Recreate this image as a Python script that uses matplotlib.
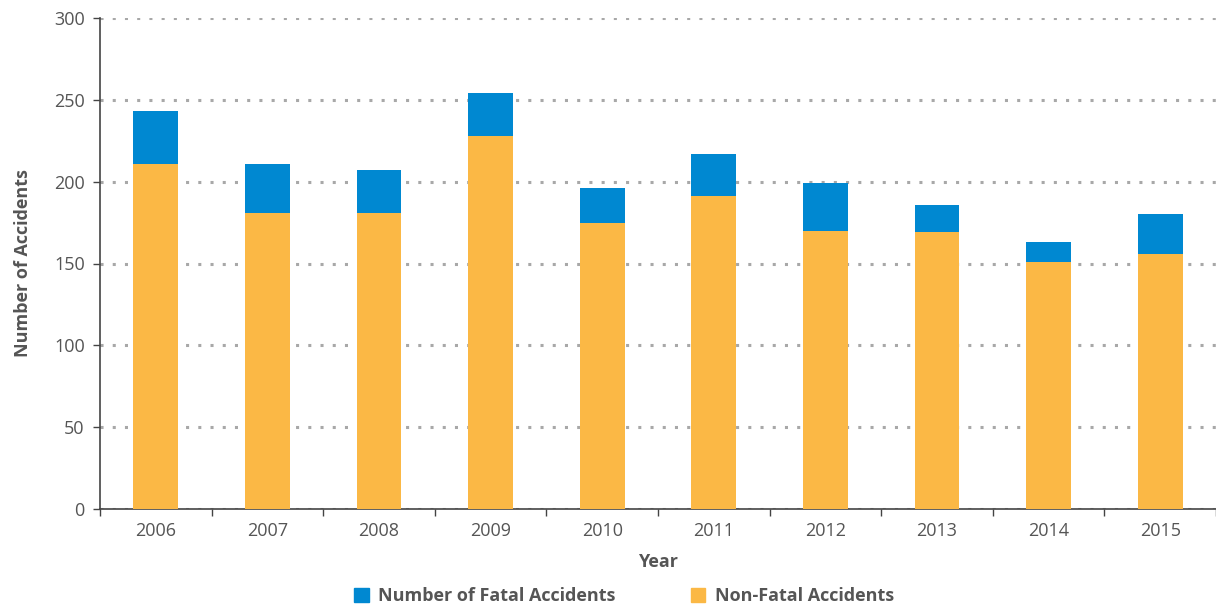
import numpy as np
import matplotlib
matplotlib.use("Agg")
import matplotlib.pyplot as plt
from matplotlib.patches import Patch

plt.rcParams['font.family'] = ['Open Sans', 'DejaVu Sans']

years = ['2006', '2007', '2008', '2009', '2010', '2011', '2012', '2013', '2014', '2015']
non_fatal = [211, 181, 181, 228, 175, 191, 170, 169, 151, 156]
fatal = [32, 30, 26, 26, 21, 26, 29, 17, 12, 24]

blue = '#0088d1'
orange = '#fbb845'
text_col = '#555555'

fig = plt.figure(figsize=(12.16, 6.07), dpi=100)
ax = fig.add_axes([100 / 1216, 98 / 607, 1116 / 1216, 491 / 607])

x = np.arange(len(years))
ax.bar(x, non_fatal, width=0.4, color=orange, zorder=3)
ax.bar(x, fatal, width=0.4, bottom=non_fatal, color=blue, zorder=3)

ax.set_xlim(-0.5, len(years) - 0.5)
ax.set_ylim(0, 300)
ax.set_yticks(range(0, 301, 50))
ax.yaxis.grid(True, color='#a8a8a8', linewidth=2.2, linestyle=(0, (1, 3)), zorder=0)
ax.set_axisbelow(True)

ax.set_xticks(x)
ax.set_xticklabels(years)
ax.set_xticks(np.arange(-0.5, len(years) + 0.5, 1), minor=True)
ax.tick_params(axis='x', which='major', length=0, pad=9, labelsize=13, labelcolor=text_col)
ax.tick_params(axis='x', which='minor', length=5, width=1, color='#444444')
ax.tick_params(axis='y', length=5, width=1, color='#444444', labelsize=13, labelcolor=text_col, pad=6)

for s in ['top', 'right']:
    ax.spines[s].set_visible(False)
for s in ['left', 'bottom']:
    ax.spines[s].set_color('#444444')
    ax.spines[s].set_linewidth(1.2)

ax.set_xlabel('Year', fontsize=13, fontweight='bold', color=text_col, labelpad=10)
ax.set_ylabel('Number of Accidents', fontsize=13, fontweight='bold', color=text_col, labelpad=16)

handles = [Patch(color=blue, label='Number of Fatal Accidents'),
           Patch(color=orange, label='Non-Fatal Accidents')]
leg = fig.legend(handles=handles, loc='center', bbox_to_anchor=(624 / 1216, 1 - 596 / 607),
                 ncol=2, frameon=False, handlelength=0.8, handleheight=0.8,
                 columnspacing=4.2, handletextpad=0.5,
                 prop={'size': 13, 'weight': 'bold'})
for t in leg.get_texts():
    t.set_color(text_col)

fig.savefig('out.png', dpi=100)
